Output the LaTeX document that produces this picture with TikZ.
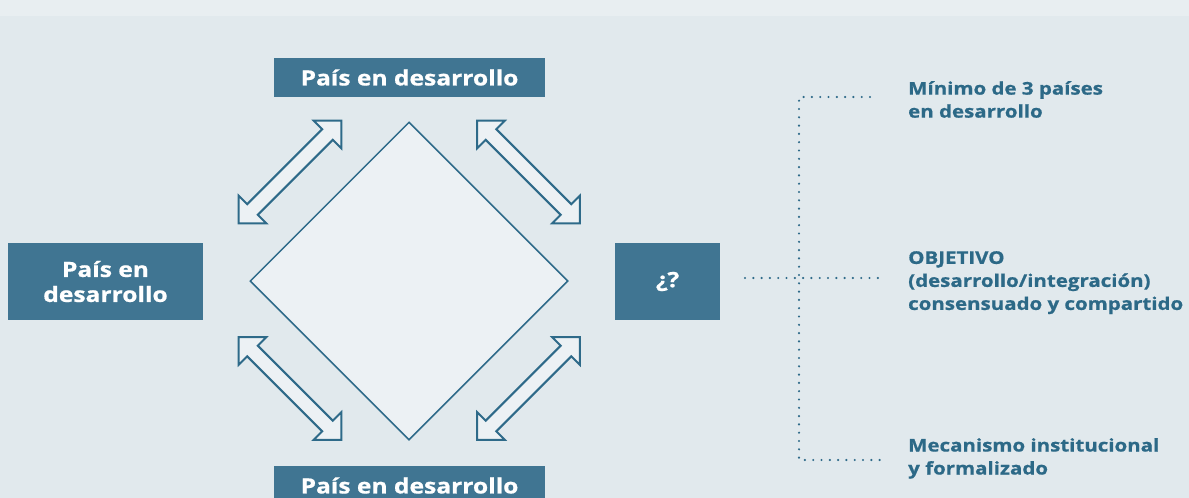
\documentclass[tikz,border=0pt]{standalone}
\usepackage{fontspec}
\setmainfont{Open Sans}[FakeStretch=1.17,BoldFeatures={FakeBold=0.8}]
\usetikzlibrary{shapes.geometric,shapes.arrows}

\definecolor{fondo}{RGB}{225,233,237}
\definecolor{banda}{RGB}{232,238,241}
\definecolor{caja}{RGB}{64,117,146}
\definecolor{trazo}{RGB}{46,106,137}
\definecolor{rombo}{RGB}{236,241,244}
\definecolor{texto}{RGB}{44,105,135}

\begin{document}
\begin{tikzpicture}[x=1pt,y=-1pt,
  pais_box/.style={fill=caja,text=white,font=\fontsize{21}{25}\selectfont\bfseries,align=center,inner sep=0},
  flecha/.style={double arrow,draw=trazo,fill=rombo,line width=2pt,inner xsep=0,inner ysep=6.5pt,
    double arrow head extend=12pt,double arrow tip angle=90,minimum height=145pt},
  nota/.style={text=texto,font=\fontsize{17.5}{23}\selectfont\bfseries,align=left,anchor=north west,inner sep=0},
  punteado/.style={draw=trazo,line width=2.4pt,line cap=round,dash pattern=on 0pt off 8.3pt}]
\useasboundingbox (0,0) rectangle (1189,498);
\clip (0,0) rectangle (1189,498);
\fill[fondo] (0,0) rectangle (1189,498);
\fill[banda] (0,0) rectangle (1189,16);

    \node[diamond,draw=trazo,fill=rombo,line width=1.5pt,minimum width=318pt,minimum height=318pt,inner sep=0,aspect=1] (centro) at (409,281) {};

    \node[pais_box,minimum width=271pt,minimum height=39pt] (arriba) at (409.5,77.5) {País en desarrollo};
    \node[pais_box,minimum width=271pt,minimum height=39pt] (abajo) at (409.5,485.5) {País en desarrollo};
    \node[pais_box,minimum width=195pt,minimum height=77pt] (izq) at (105.5,281.5) {País en\\desarrollo};
    \node[pais_box,minimum width=105pt,minimum height=77pt] (pregunta) at (667.5,281.5) {¿?};

    \node[flecha,rotate=45] (f1) at (290,172) {};
    \node[flecha,rotate=-45] (f2) at (528.5,172) {};
    \node[flecha,rotate=-45] (f3) at (290,388.5) {};
    \node[flecha,rotate=45] (f4) at (528.5,388.5) {};

    \node[nota] (minimo) at (908,81) {Mínimo de 3 países\\en desarrollo};
    \node[nota] (objetivo) at (908,251) {OBJETIVO\\(desarrollo/integración)\\consensuado y compartido};
    \node[nota] (mecanismo) at (908,438) {Mecanismo institucional\\y formalizado};

    \coordinate (c1) at (799,97);
    \coordinate (c2) at (799,460);
    \coordinate (m0) at (745,278);
    \coordinate (m1) at (799,278);
    \draw[punteado] (870,97) -- (c1) -- (c2) -- (881,460);
    \draw[punteado] (m0) -- (884,278);

\end{tikzpicture}
\end{document}
